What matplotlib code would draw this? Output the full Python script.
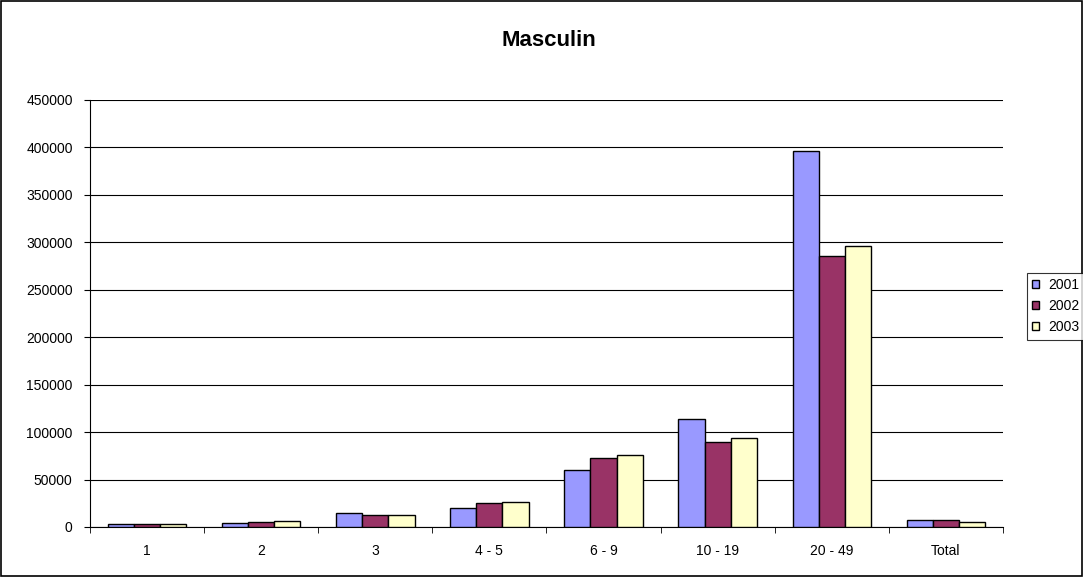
import numpy as np
import matplotlib
matplotlib.use('Agg')
import matplotlib.pyplot as plt
from matplotlib.patches import Rectangle

plt.rcParams['font.family'] = ['Liberation Sans', 'DejaVu Sans']

categories = ['1', '2', '3', '4 - 5', '6 - 9', '10 - 19', '20 - 49', 'Total']
years = ['2001', '2002', '2003']
v2001 = [3300, 4500, 14400, 20400, 60300, 114000, 396700, 7100]
v2002 = [3200, 4800, 12700, 25000, 73000, 90000, 285800, 7100]
v2003 = [3300, 6700, 12700, 26400, 76000, 94000, 296300, 5600]
colors = ['#9999FF', '#993366', '#FFFFCC']

fig = plt.figure(figsize=(10.83, 5.77), dpi=100)
ax = fig.add_axes([0.0831, 0.0867, 0.843, 0.74])

x = np.arange(len(categories))
w = 0.229
for i, vals in enumerate([v2001, v2002, v2003]):
    ax.bar(x + (i - 1) * w, vals, w, color=colors[i], edgecolor='black',
           linewidth=1, label=years[i], zorder=3)

ax.set_xlim(-0.5, len(categories) - 0.5)
ax.set_ylim(0, 450000)
ax.set_yticks(np.arange(0, 450001, 50000))
ax.set_yticklabels([str(v) for v in range(0, 450001, 50000)], fontsize=10)
ax.set_xticks(x)
ax.set_xticklabels(categories, fontsize=10)
ax.tick_params(axis='x', length=0, pad=12)
ax.set_xticks(np.arange(-0.5, len(categories)), minor=True)
ax.tick_params(axis='x', which='minor', length=4, direction='out')
ax.tick_params(axis='y', length=4.5, direction='out', pad=8)
ax.grid(axis='y', color='black', linewidth=0.8, zorder=0)
ax.spines['top'].set_visible(False)
ax.spines['right'].set_visible(False)

fig.text(549 / 1083, 1 - 40 / 577, 'Masculin', ha='center', va='center',
         fontsize=16, fontweight='bold')

leg = fig.legend(loc='upper left', bbox_to_anchor=(1026.5 / 1083, 1 - 272.5 / 577),
                 fontsize=10, frameon=True, fancybox=False, edgecolor='black',
                 handlelength=0.5, handleheight=0.5, handletextpad=0.7,
                 borderpad=0.4, labelspacing=0.5, borderaxespad=0)
leg.get_frame().set_linewidth(0.8)

fig.patches.append(Rectangle((0.001, 0.001), 0.998, 0.997, transform=fig.transFigure,
                             fill=False, edgecolor='black', linewidth=1.2))

plt.savefig('out.png', dpi=100)
plt.close()
